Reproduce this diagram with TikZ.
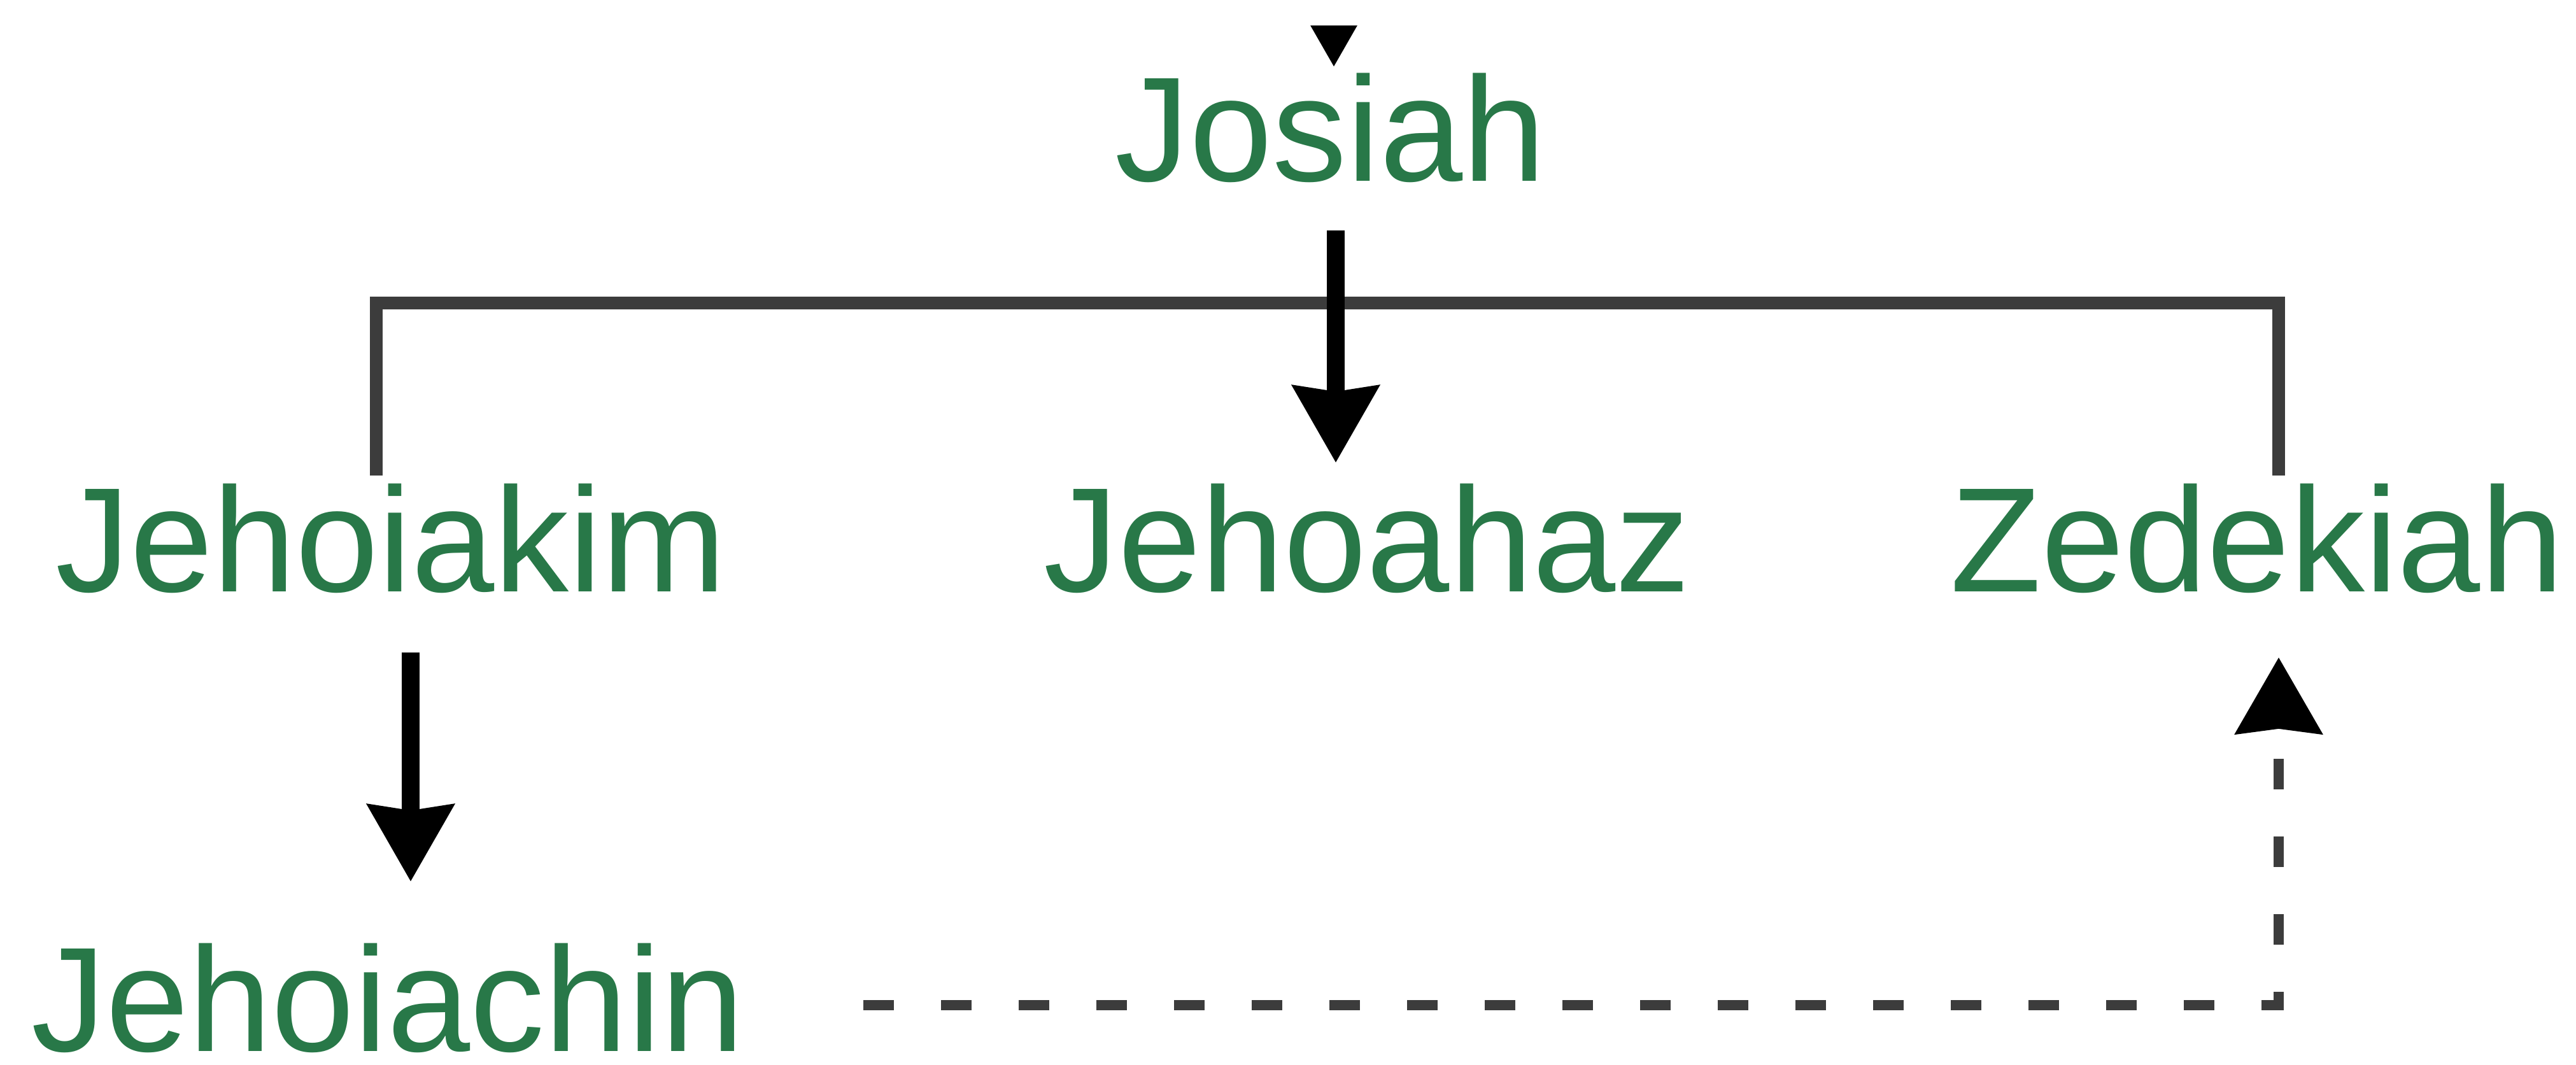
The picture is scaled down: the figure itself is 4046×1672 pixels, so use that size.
\documentclass[tikz,border=0pt]{standalone}
\usepackage{fontspec}
\setmainfont{Liberation Sans}
\usetikzlibrary{arrows.meta,calc}
\definecolor{namegreen}{RGB}{40,120,72}
\definecolor{linegray}{RGB}{60,60,60}
\begin{document}
\begin{tikzpicture}[x=0.25pt,y=-0.25pt,
  person/.style={inner sep=0pt, anchor=base, text=namegreen,
    font=\fontsize{58.5pt}{60pt}\selectfont, text height=42pt, text depth=0pt},
  descent/.style={line width=7pt, black, -{Stealth[length=30pt,width=33pt,inset=2pt]}},
  bracket/.style={line width=5pt, linegray},
  link/.style={line width=4pt, linegray, dash pattern=on 12pt off 18.5pt,
    -{Stealth[length=30pt,width=34pt,inset=2pt,black]}}
]
\useasboundingbox (0,0) rectangle (4046,1672);
\fill[white] (0,0) rectangle (4046,1672);

\node[person] (josiah) at (2090,284) {Josiah};
\node[person] (jehoiakim) at (614,929) {Jehoiakim};
\node[person] (jehoahaz) at (2147,929) {Jehoahaz};
\node[person] (zedekiah) at (3545,929) {Zedekiah};
\node[person] (jehoiachin) at (609,1651) {Jehoiachin};
\coordinate (top) at (2095,-150);

\begin{scope}
\clip (0,40) rectangle (4046,1672);
\draw[descent] (top) -- ([shift={(5,-10)}]josiah.north);
\end{scope}
\draw[bracket] ([shift={(-23,-13)}]jehoiakim.north) -- ++(0,-271) -| ([shift={(34,-13)}]zedekiah.north);
\draw[descent] ([shift={(8,77)}]josiah.south) -- ([shift={(-49,-33)}]jehoahaz.north);
\draw[descent] ([shift={(31,95)}]jehoiakim.south) -- ([shift={(36,-97)}]jehoiachin.north);
\draw[link] ([shift={(187,12)}]jehoiachin.east) -| ([shift={(34,103)}]zedekiah.south);
\end{tikzpicture}
\end{document}
